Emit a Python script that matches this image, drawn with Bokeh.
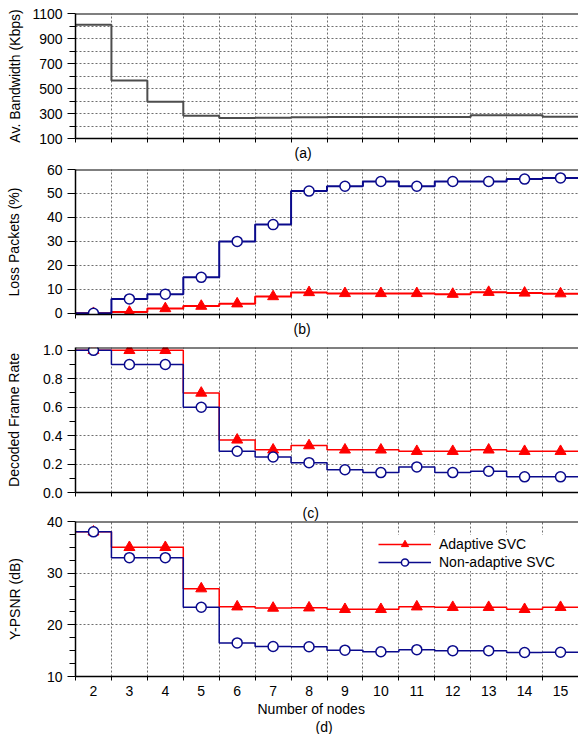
from bokeh.plotting import figure
from bokeh.layouts import column
from bokeh.models import FixedTicker, Span, Title, PrintfTickFormatter
from bokeh.embed import file_html
from bokeh.resources import INLINE

# ---- data ----
nodes = [2, 3, 4, 5, 6, 7, 8, 9, 10, 11, 12, 13, 14, 15]
bandwidth = [1010, 565, 395, 283, 264, 266, 270, 272, 272, 272, 272, 286, 286, 275]
loss_adaptive = [0, 0.5, 2, 3, 4, 7, 8.7, 8.3, 8.3, 8.3, 8.0, 8.8, 8.5, 8.2]
loss_non = [0, 6, 8, 15, 30, 37, 51, 53, 55, 53, 55, 55, 56, 56.5]
dfr_adaptive = [1.0, 1.0, 1.0, 0.70, 0.37, 0.30, 0.33, 0.30, 0.30, 0.29, 0.29, 0.30, 0.29, 0.29]
dfr_non = [1.0, 0.90, 0.90, 0.60, 0.29, 0.25, 0.21, 0.16, 0.14, 0.18, 0.14, 0.15, 0.11, 0.11]
psnr_adaptive = [38, 35, 35, 27, 23.5, 23.25, 23.3, 23.0, 23.0, 23.5, 23.4, 23.4, 23.0, 23.4]
psnr_non = [38, 33, 33, 23.4, 16.5, 15.8, 15.75, 15.1, 14.8, 15.2, 15.0, 15.0, 14.65, 14.7]

bw_ticks = [100, 300, 500, 700, 900, 1100]
bw_minor = [200, 400, 600, 800, 1000]
bw_grid = [100, 200, 300, 400, 500, 600, 700, 800, 900, 1000, 1100]
loss_ticks = [0, 10, 20, 30, 40, 50, 60]
dfr_ticks = [0.0, 0.2, 0.4, 0.6, 0.8, 1.0]
dfr_minor = [0.1, 0.3, 0.5, 0.7, 0.9]
psnr_ticks = [10, 20, 30, 40]
psnr_minor = [12.5, 15, 17.5, 22.5, 25, 27.5, 32.5, 35, 37.5]

label_names = ["Adaptive SVC", "Non-adaptive SVC"]

FONT = "Liberation Sans"
RED = "#ff0000"
BLUE = "#0a0a8c"
GRID = "#6e6e6e"

edges = [n - 0.5 for n in nodes] + [nodes[-1] + 0.5]


def stepvals(v):
    return list(v) + [v[-1]]


def make_fig(height, top, bottom, yr, yticks, yminor, ygrid, ylabel, label_standoff):
    p = figure(width=578, height=height, x_range=(edges[0], edges[-1]), y_range=yr,
               output_backend="svg", toolbar_location=None,
               min_border_left=75, min_border_right=0,
               min_border_top=top, min_border_bottom=bottom)
    p.outline_line_color = None
    p.background_fill_color = "white"
    ya = p.yaxis[0]
    ya.ticker = FixedTicker(ticks=yticks, minor_ticks=yminor)
    ya.major_tick_in = 0
    ya.major_tick_out = 8
    ya.minor_tick_in = 0
    ya.minor_tick_out = 6
    ya.major_label_standoff = 5
    ya.major_label_text_font = FONT
    ya.major_label_text_font_size = "14px"
    ya.major_label_text_color = "black"
    ya.axis_line_color = "black"
    ya.axis_line_width = 1.5
    ya.major_tick_line_color = "black"
    ya.minor_tick_line_color = "black"
    ya.axis_label = ylabel
    ya.axis_label_text_font = FONT
    ya.axis_label_text_font_size = "14px"
    ya.axis_label_text_font_style = "normal"
    ya.axis_label_text_color = "black"
    ya.axis_label_standoff = label_standoff
    xa = p.xaxis[0]
    xa.axis_line_color = "black"
    xa.axis_line_width = 1.5
    xa.major_tick_line_color = "black"
    xa.minor_tick_line_color = "black"
    p.xgrid.ticker = FixedTicker(ticks=edges)
    p.ygrid.ticker = FixedTicker(ticks=ygrid)
    for g in (p.xgrid[0], p.ygrid[0]):
        g.grid_line_color = GRID
        g.grid_line_dash = "2 2"
        g.grid_line_width = 1
    p.add_layout(Span(location=yr[1], dimension="width", line_color="black", line_width=2))
    return p


def ticks_only_x(p):
    xa = p.xaxis[0]
    xa.ticker = FixedTicker(ticks=[], minor_ticks=edges)
    xa.major_tick_in = 0
    xa.major_tick_out = 0
    xa.minor_tick_out = 4
    xa.minor_tick_in = 0
    xa.major_label_standoff = 0


def add_title(p, txt, place, offset, standoff):
    p.add_layout(Title(text=txt, align="left", offset=offset, standoff=standoff,
                       text_font=FONT, text_font_size="14px", text_font_style="normal",
                       text_color="black"), place)


# ---- (a) bandwidth ----
pa = make_fig(161, 13, 23, (100, 1100), bw_ticks, bw_minor, bw_grid,
              "Av. Bandwidth (Kbps)", 6)
ticks_only_x(pa)
add_title(pa, "(a)", "below", 219, 0)
pa.step(edges, stepvals(bandwidth), mode="after", line_color="#4d4d4d", line_width=2)

# ---- (b) loss ----
pb = make_fig(176, 8, 23, (-0.5, 60), loss_ticks, [], [10, 20, 30, 40, 50],
              "Loss Packets (%)", 22)
ticks_only_x(pb)
add_title(pb, "(b)", "below", 218, 0)
pb.step(edges, stepvals(loss_adaptive), mode="after", line_color=RED, line_width=2)
pb.scatter(nodes, loss_adaptive, marker="triangle", size=11, fill_color=RED, line_color=RED)
pb.step(edges, stepvals(loss_non), mode="after", line_color=BLUE, line_width=2)
pb.scatter(nodes, loss_non, marker="circle", size=10, fill_color="white", line_color=BLUE, line_width=1.5)

# ---- (c) decoded frame rate ----
pc = make_fig(164, 10, 9, (0, 1.02), dfr_ticks, dfr_minor, [0.2, 0.4, 0.6, 0.8],
              "Decoded Frame Rate", 18)
ticks_only_x(pc)
pc.yaxis[0].formatter = PrintfTickFormatter(format="%.1f")
pc.step(edges, stepvals(dfr_adaptive), mode="after", line_color=RED, line_width=1.5)
pc.scatter(nodes, dfr_adaptive, marker="triangle", size=11, fill_color=RED, line_color=RED)
pc.step(edges, stepvals(dfr_non), mode="after", line_color=BLUE, line_width=1.5)
pc.scatter(nodes, dfr_non, marker="circle", size=10, fill_color="white", line_color=BLUE, line_width=1.5)

# ---- (d) Y-PSNR ----
pd_ = make_fig(233, 20, 58, (10, 40), psnr_ticks, psnr_minor, [20, 30],
               "Y-PSNR (dB)", 21)
add_title(pd_, "(c)", "above", 227, 2)
xa = pd_.xaxis[0]
xa.ticker = FixedTicker(ticks=nodes, minor_ticks=edges)
xa.major_tick_in = 0
xa.major_tick_out = 0
xa.minor_tick_in = 0
xa.minor_tick_out = 4
xa.major_label_standoff = 5
xa.major_label_text_font = FONT
xa.major_label_text_font_size = "14px"
xa.major_label_text_color = "black"
pd_.step(edges, stepvals(psnr_adaptive), mode="after", line_color=RED, line_width=1.5,
         legend_label=label_names[0])
pd_.scatter(nodes, psnr_adaptive, marker="triangle", size=11, fill_color=RED, line_color=RED,
            legend_label=label_names[0])
pd_.step(edges, stepvals(psnr_non), mode="after", line_color=BLUE, line_width=1.5,
         legend_label=label_names[1])
pd_.scatter(nodes, psnr_non, marker="circle", size=10, fill_color="white", line_color=BLUE,
            line_width=1.5, legend_label=label_names[1])
lg = pd_.legend[0]
lg.location = (303, 105)
lg.label_text_font = FONT
lg.label_text_font_size = "14px"
lg.label_text_color = "black"
lg.glyph_width = 53
lg.glyph_height = 18
lg.label_height = 18
lg.label_standoff = 8
lg.padding = 4
lg.spacing = 0
lg.margin = 0
lg.background_fill_color = "white"
lg.background_fill_alpha = 1.0
lg.border_line_color = None
add_title(pd_, "Number of nodes", "below", 182, 0)
add_title(pd_, "(d)", "below", 240, 0)

layout = column(pa, pb, pc, pd_, spacing=0)
open("out.html", "w").write(file_html(layout, INLINE))
